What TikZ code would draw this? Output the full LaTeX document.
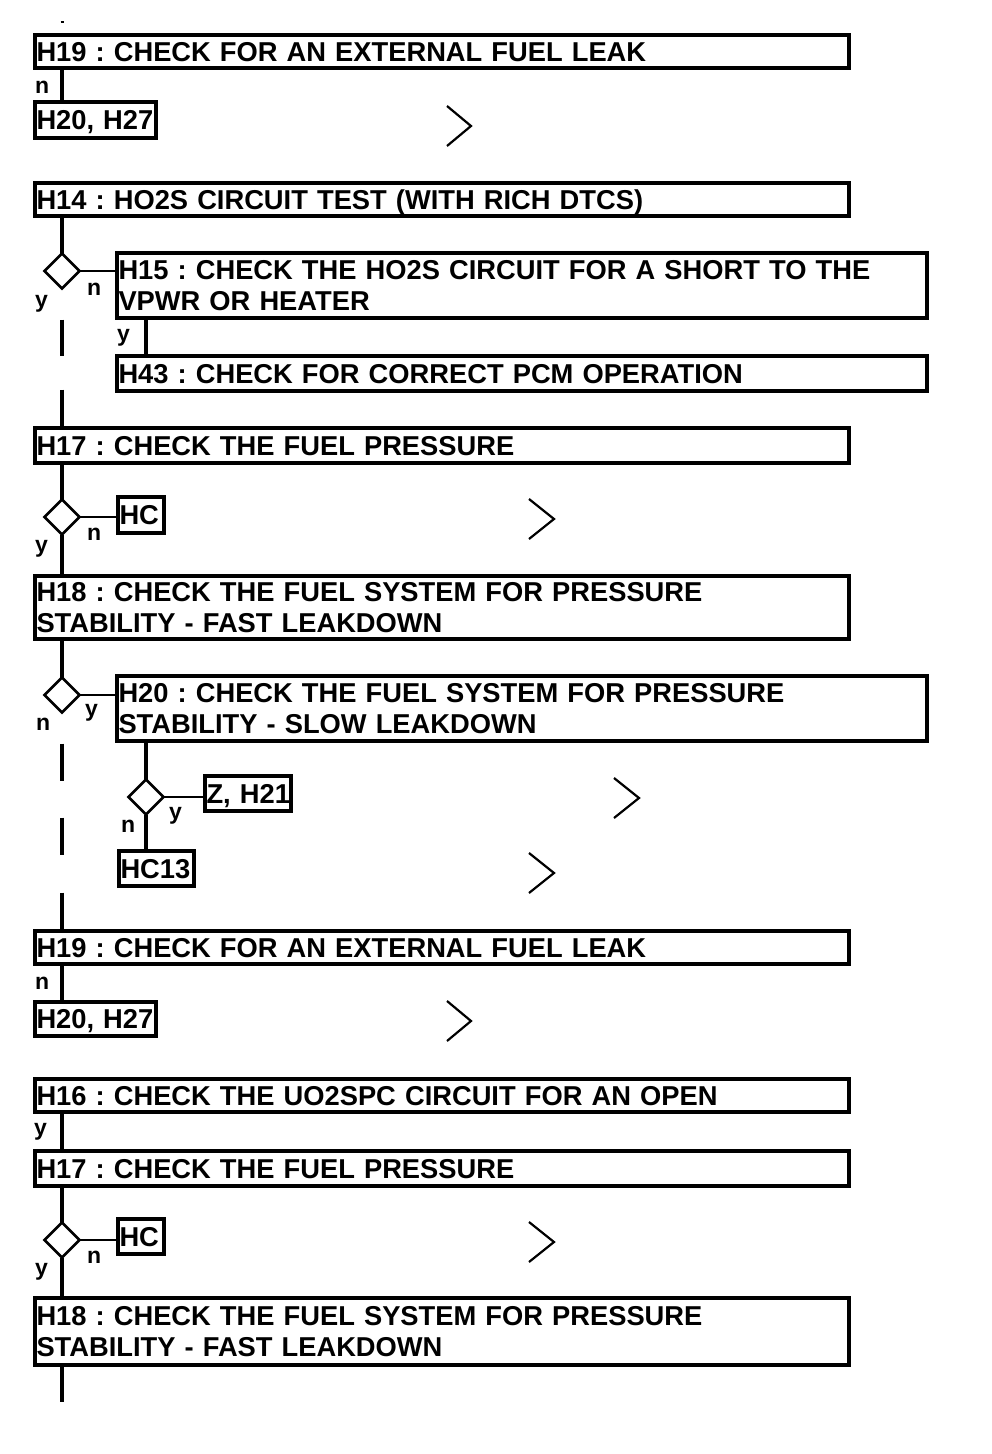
\documentclass[tikz,border=0pt]{standalone}
\usepackage{fontspec}
\setmainfont{Liberation Sans}
\usetikzlibrary{shapes.geometric}
\tikzset{
  box/.style={draw, line width=4.5pt, rectangle, outer sep=0pt, inner xsep=1.5pt, inner ysep=0pt,
    anchor=north west, align=left, font=\fontsize{27.3}{31}\selectfont\bfseries\frenchspacing},
  one/.style={text height=19.6pt, text depth=0pt},
  dia/.style={draw, diamond, line width=2.7pt, minimum width=35pt, minimum height=35pt,
    inner sep=0pt, outer sep=0pt},
  trunk/.style={line width=4.5pt},
  branch/.style={line width=2.7pt},
  lbl/.style={font=\fontsize{23}{23}\selectfont\bfseries, anchor=base west, inner sep=0pt},
  chev/.style={line width=2.2pt, line join=miter},
}
\begin{document}
\frenchspacing
\begin{tikzpicture}[x=1pt, y=-1pt]
\useasboundingbox (0,0) rectangle (992,1454);
\coordinate (tx) at (62,0);
\coordinate (sx) at (146,0);
\coordinate (topa) at (60.5,22);
\coordinate (topb) at (63.5,22);
\coordinate (endc) at (62,1402);

% boxes
\node[box, one, minimum width=814pt, minimum height=33pt, text width=811pt] (H19a) at (35,35) {H19 : CHECK FOR AN EXTERNAL FUEL LEAK};
\node[box, one, minimum width=121pt, minimum height=36pt, text width=118pt] (H2027a) at (35,102) {\mbox{H20, H27}};
\node[box, one, minimum width=814pt, minimum height=33pt, text width=811pt] (H14) at (35,183) {H14 : HO2S CIRCUIT TEST (WITH RICH DTCS)};
\node[box, minimum width=810pt, minimum height=65pt, text width=807pt] (H15) at (117,253) {H15 : CHECK THE HO2S CIRCUIT FOR A SHORT TO THE\\VPWR OR HEATER};
\node[box, one, minimum width=810pt, minimum height=35pt, text width=807pt] (H43) at (117,356) {H43 : CHECK FOR CORRECT PCM OPERATION};
\node[box, one, minimum width=814pt, minimum height=35pt, text width=811pt] (H17a) at (35,428) {H17 : CHECK THE FUEL PRESSURE};
\node[box, one, minimum width=46pt, minimum height=36pt, text width=43pt] (HCa) at (118,497) {\mbox{HC}};
\node[box, minimum width=814pt, minimum height=63pt, text width=811pt] (H18a) at (35,576) {H18 : CHECK THE FUEL SYSTEM FOR PRESSURE\\STABILITY - FAST LEAKDOWN};
\node[box, minimum width=810pt, minimum height=65pt, text width=807pt] (H20) at (117,676) {H20 : CHECK THE FUEL SYSTEM FOR PRESSURE\\STABILITY - SLOW LEAKDOWN};
\node[box, one, minimum width=86pt, minimum height=35pt, text width=83pt] (ZH21) at (205,776) {\mbox{Z, H21}};
\node[box, one, minimum width=75pt, minimum height=35pt, text width=72pt] (HC13) at (119,851) {\mbox{HC13}};
\node[box, one, minimum width=814pt, minimum height=33pt, text width=811pt] (H19b) at (35,931) {H19 : CHECK FOR AN EXTERNAL FUEL LEAK};
\node[box, one, minimum width=121pt, minimum height=34pt, text width=118pt] (H2027b) at (35,1002) {\mbox{H20, H27}};
\node[box, one, minimum width=814pt, minimum height=33pt, text width=811pt] (H16) at (35,1079) {H16 : CHECK THE UO2SPC CIRCUIT FOR AN OPEN};
\node[box, one, minimum width=814pt, minimum height=35pt, text width=811pt] (H17b) at (35,1151) {H17 : CHECK THE FUEL PRESSURE};
\node[box, one, minimum width=46pt, minimum height=35pt, text width=43pt] (HCb) at (118,1219) {\mbox{HC}};
\node[box, minimum width=814pt, minimum height=67pt, text width=811pt] (H18b) at (35,1298) {H18 : CHECK THE FUEL SYSTEM FOR PRESSURE\\STABILITY - FAST LEAKDOWN};

% decisions
\node[dia] (dA) at (62,271) {};
\node[dia] (dB) at (62,517) {};
\node[dia] (dC) at (62,695) {};
\node[dia] (dD) at (146,797) {};
\node[dia] (dE) at (62,1240) {};

% connectors
\draw[line width=2.5pt] (topa) -- (topb);
\draw[trunk] (H19a.south -| tx) -- (H2027a.north -| tx);
\draw[trunk] (H14.south -| tx) -- (dA.north);
\draw[branch] (dA.east) -- (dA.east -| H15.west);
\draw[trunk, dash pattern=on 0pt off 31pt on 36pt off 34pt on 200pt] (dA.south) -- (H17a.north -| tx);
\draw[trunk] (H15.south -| sx) -- (H43.north -| sx);
\draw[trunk] (H17a.south -| tx) -- (dB.north);
\draw[branch] (dB.east) -- (dB.east -| HCa.west);
\draw[trunk] (dB.south) -- (H18a.north -| tx);
\draw[trunk] (H18a.south -| tx) -- (dC.north);
\draw[branch] (dC.east) -- (dC.east -| H20.west);
\draw[trunk, dash pattern=on 0pt off 31pt on 37pt off 37pt on 37pt off 38pt on 200pt] (dC.south) -- (H19b.north -| tx);
\draw[trunk] (H20.south -| sx) -- (dD.north);
\draw[branch] (dD.east) -- (dD.east -| ZH21.west);
\draw[trunk] (dD.south) -- (HC13.north -| sx);
\draw[trunk] (H19b.south -| tx) -- (H2027b.north -| tx);
\draw[trunk] (H16.south -| tx) -- (H17b.north -| tx);
\draw[trunk] (H17b.south -| tx) -- (dE.north);
\draw[branch] (dE.east) -- (dE.east -| HCb.west);
\draw[trunk] (dE.south) -- (H18b.north -| tx);
\draw[trunk] (H18b.south -| tx) -- (endc);

% labels
\node[lbl] (ln1) at (35,93) {n};
\node[lbl] (lyA) at (35,307) {y};
\node[lbl] (lnA) at (87,295) {n};
\node[lbl] (ly15) at (117,341) {y};
\node[lbl] (lnB) at (87,540) {n};
\node[lbl] (lyB) at (35,552) {y};
\node[lbl] (lyC) at (85,716) {y};
\node[lbl] (lnC) at (36,730) {n};
\node[lbl] (lyD) at (169,819) {y};
\node[lbl] (lnD) at (121,832) {n};
\node[lbl] (ln2) at (35,989) {n};
\node[lbl] (ly16) at (34,1135) {y};
\node[lbl] (lnE) at (87,1263) {n};
\node[lbl] (lyE) at (35,1275) {y};

% chevrons
\draw[chev] (447,106) -- (471,126) -- (447,146);
\draw[chev] (529,499) -- (554,519) -- (529,539);
\draw[chev] (614,778) -- (639,798) -- (614,818);
\draw[chev] (529,853) -- (554,873) -- (529,893);
\draw[chev] (447,1001) -- (471,1021) -- (447,1041);
\draw[chev] (529,1222) -- (554,1242) -- (529,1262);
\end{tikzpicture}
\end{document}
